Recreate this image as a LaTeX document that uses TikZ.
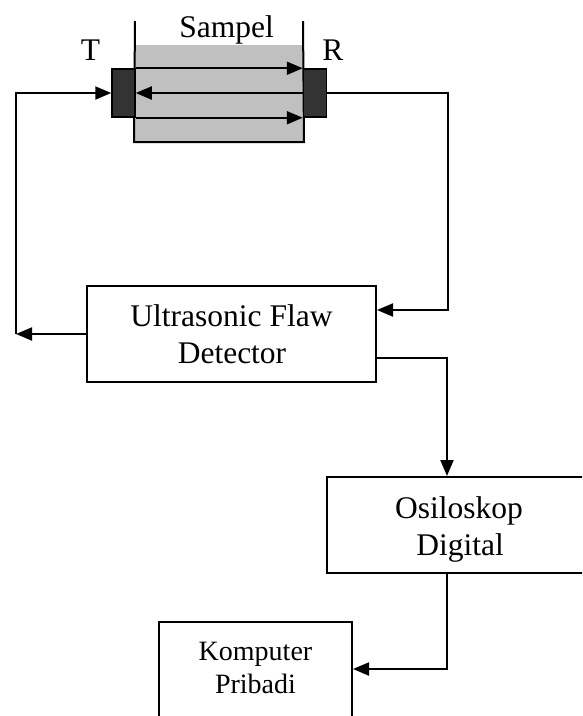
\documentclass[tikz,border=0pt]{standalone}
\usepackage{fontspec}
\setmainfont{Liberation Serif}
\usetikzlibrary{arrows.meta}
\definecolor{samplegray}{RGB}{192,192,192}
\definecolor{probe}{RGB}{51,51,51}
\begin{document}
\begin{tikzpicture}[x=1pt,y=-1pt,
  line width=2pt,
  arr/.style={-{Triangle[length=16pt,width=13pt]}},
  block/.style={draw,rectangle,inner sep=0pt,line width=2pt},
  bigtxt/.style={font=\fontsize{31.5}{37}\selectfont,anchor=base,inner sep=0pt},
  smalltxt/.style={font=\fontsize{28}{33}\selectfont,anchor=base,inner sep=0pt},
  probebox/.style={draw,fill=probe,rectangle,inner sep=0pt,minimum width=23pt,minimum height=48pt,line width=1.5pt}]
\useasboundingbox (0,0) rectangle (582,716);
\clip (0,0) rectangle (582,716);

% specimen between transmitter and receiver
\node[fill=samplegray,inner sep=0pt,minimum width=168pt,minimum height=96pt] (sample) at (219,93) {};
\draw (135,21) -- (sample.south west) -- (sample.south east) -- (303,21);
\node[probebox] (tx) at (123.5,93) {};
\node[probebox] (rx) at (315,93) {};
\draw[arr] (tx.north east) -- (rx.north west);
\draw[arr] (rx.west) -- (tx.east);
\draw[arr] (tx.south east) -- (rx.south west);

\node[bigtxt] (tlabel) at (90.5,60) {T};
\node[bigtxt] (rlabel) at (333,60) {R};
\node[bigtxt] (slabel) at (226.5,37) {Sampel};

% instrument blocks
\node[block,minimum width=289pt,minimum height=96pt] (fd) at (231.5,334) {};
\node[bigtxt] (fd1) at (231.5,326) {Ultrasonic Flaw};
\node[bigtxt] (fd2) at (232,363) {Detector};

\node[block,minimum width=264pt,minimum height=96pt] (osc) at (459,525) {};
\node[bigtxt] (osc1) at (459,518) {Osiloskop};
\node[bigtxt] (osc2) at (460,555) {Digital};

\node[block,minimum width=193pt,minimum height=100pt] (pc) at (255.5,672) {};
\node[smalltxt] (pc1) at (255.5,660) {Komputer};
\node[smalltxt] (pc2) at (255.5,693) {Pribadi};

% signal paths
\coordinate (lt) at (16,334);
\draw[arr] (fd.west) -- (lt);
\draw[arr] (lt) |- (tx.west);

\coordinate (rc) at (448,310);
\draw[arr] (rx.east) -| (rc) -- (rc -| fd.east);

\coordinate (oc) at (447,358);
\draw[arr] (oc -| fd.east) -- (oc) -- (oc |- osc.north);

\coordinate (pcn) at (447,669);
\draw[arr] (pcn |- osc.south) -- (pcn) -- (pcn -| pc.east);
\end{tikzpicture}
\end{document}
